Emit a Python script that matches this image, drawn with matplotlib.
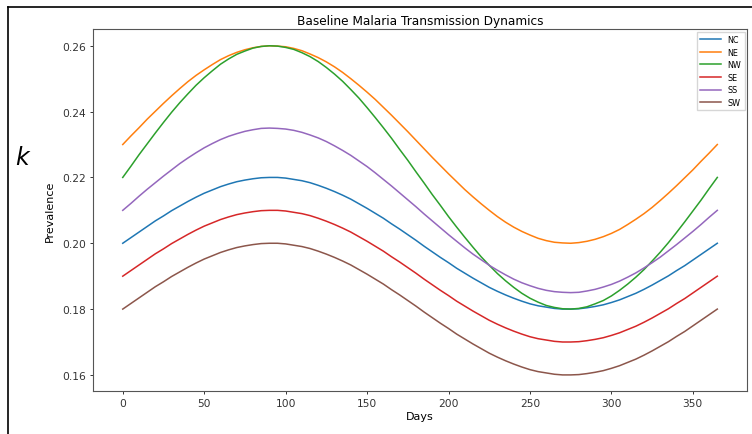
import matplotlib
matplotlib.use("Agg")
import matplotlib.pyplot as plt
from matplotlib.lines import Line2D

# day of year at which the curves were read (every 5 days)
days = list(range(0, 366, 5))

nc = [0.2000, 0.2017, 0.2034, 0.2051, 0.2068, 0.2083, 0.2099, 0.2113, 0.2127, 0.2140,
      0.2152, 0.2162, 0.2172, 0.2180, 0.2187, 0.2192, 0.2196, 0.2199, 0.2200, 0.2200,
      0.2198, 0.2194, 0.2190, 0.2184, 0.2176, 0.2167, 0.2157, 0.2146, 0.2134, 0.2120,
      0.2106, 0.2091, 0.2076, 0.2059, 0.2043, 0.2026, 0.2009, 0.1991, 0.1974, 0.1957,
      0.1941, 0.1924, 0.1909, 0.1894, 0.1880, 0.1866, 0.1854, 0.1843, 0.1833, 0.1824,
      0.1816, 0.1810, 0.1806, 0.1802, 0.1800, 0.1800, 0.1801, 0.1804, 0.1808, 0.1813,
      0.1820, 0.1828, 0.1838, 0.1848, 0.1860, 0.1873, 0.1887, 0.1901, 0.1917, 0.1932,
      0.1949, 0.1966, 0.1983, 0.2000]
ne = [0.2300, 0.2326, 0.2351, 0.2377, 0.2401, 0.2425, 0.2448, 0.2470, 0.2491, 0.2510,
      0.2527, 0.2543, 0.2558, 0.2570, 0.2580, 0.2588, 0.2594, 0.2598, 0.2600, 0.2599,
      0.2597, 0.2592, 0.2585, 0.2575, 0.2564, 0.2551, 0.2536, 0.2519, 0.2500, 0.2480,
      0.2459, 0.2437, 0.2413, 0.2389, 0.2364, 0.2339, 0.2313, 0.2287, 0.2261, 0.2236,
      0.2211, 0.2187, 0.2163, 0.2141, 0.2120, 0.2100, 0.2081, 0.2064, 0.2049, 0.2036,
      0.2025, 0.2015, 0.2008, 0.2003, 0.2001, 0.2000, 0.2002, 0.2006, 0.2012, 0.2020,
      0.2030, 0.2042, 0.2057, 0.2073, 0.2090, 0.2109, 0.2130, 0.2152, 0.2175, 0.2199,
      0.2223, 0.2249, 0.2274, 0.2300]
nw = [0.2200, 0.2234, 0.2269, 0.2302, 0.2335, 0.2367, 0.2398, 0.2427, 0.2454, 0.2480,
      0.2503, 0.2524, 0.2544, 0.2560, 0.2574, 0.2584, 0.2593, 0.2598, 0.2600, 0.2599,
      0.2595, 0.2589, 0.2579, 0.2567, 0.2552, 0.2534, 0.2514, 0.2492, 0.2467, 0.2441,
      0.2412, 0.2382, 0.2351, 0.2319, 0.2285, 0.2252, 0.2217, 0.2183, 0.2148, 0.2115,
      0.2081, 0.2049, 0.2018, 0.1988, 0.1959, 0.1933, 0.1908, 0.1886, 0.1866, 0.1848,
      0.1833, 0.1821, 0.1811, 0.1805, 0.1801, 0.1800, 0.1802, 0.1807, 0.1816, 0.1826,
      0.1840, 0.1857, 0.1876, 0.1897, 0.1920, 0.1946, 0.1973, 0.2002, 0.2033, 0.2065,
      0.2098, 0.2131, 0.2166, 0.2200]
se = [0.1900, 0.1917, 0.1934, 0.1951, 0.1968, 0.1983, 0.1999, 0.2013, 0.2027, 0.2040,
      0.2052, 0.2062, 0.2072, 0.2080, 0.2087, 0.2092, 0.2096, 0.2099, 0.2100, 0.2100,
      0.2098, 0.2094, 0.2090, 0.2084, 0.2076, 0.2067, 0.2057, 0.2046, 0.2034, 0.2020,
      0.2006, 0.1991, 0.1976, 0.1959, 0.1943, 0.1926, 0.1909, 0.1891, 0.1874, 0.1857,
      0.1841, 0.1824, 0.1809, 0.1794, 0.1780, 0.1766, 0.1754, 0.1743, 0.1733, 0.1724,
      0.1716, 0.1710, 0.1706, 0.1702, 0.1700, 0.1700, 0.1701, 0.1704, 0.1708, 0.1713,
      0.1720, 0.1728, 0.1738, 0.1748, 0.1760, 0.1773, 0.1787, 0.1801, 0.1817, 0.1832,
      0.1849, 0.1866, 0.1883, 0.1900]
ss = [0.2100, 0.2121, 0.2143, 0.2164, 0.2184, 0.2204, 0.2223, 0.2242, 0.2259, 0.2275,
      0.2290, 0.2303, 0.2315, 0.2325, 0.2333, 0.2340, 0.2345, 0.2349, 0.2350, 0.2349,
      0.2347, 0.2343, 0.2337, 0.2329, 0.2320, 0.2309, 0.2296, 0.2282, 0.2267, 0.2250,
      0.2233, 0.2214, 0.2194, 0.2174, 0.2153, 0.2132, 0.2111, 0.2089, 0.2068, 0.2047,
      0.2026, 0.2006, 0.1986, 0.1967, 0.1950, 0.1933, 0.1918, 0.1904, 0.1891, 0.1880,
      0.1871, 0.1863, 0.1857, 0.1853, 0.1851, 0.1850, 0.1851, 0.1855, 0.1860, 0.1867,
      0.1875, 0.1885, 0.1897, 0.1910, 0.1925, 0.1941, 0.1958, 0.1977, 0.1996, 0.2016,
      0.2036, 0.2057, 0.2079, 0.2100]
sw = [0.1800, 0.1817, 0.1834, 0.1851, 0.1868, 0.1883, 0.1899, 0.1913, 0.1927, 0.1940,
      0.1952, 0.1962, 0.1972, 0.1980, 0.1987, 0.1992, 0.1996, 0.1999, 0.2000, 0.2000,
      0.1998, 0.1994, 0.1990, 0.1984, 0.1976, 0.1967, 0.1957, 0.1946, 0.1934, 0.1920,
      0.1906, 0.1891, 0.1876, 0.1859, 0.1843, 0.1826, 0.1809, 0.1791, 0.1774, 0.1757,
      0.1741, 0.1724, 0.1709, 0.1694, 0.1680, 0.1666, 0.1654, 0.1643, 0.1633, 0.1624,
      0.1616, 0.1610, 0.1606, 0.1602, 0.1600, 0.1600, 0.1601, 0.1604, 0.1608, 0.1613,
      0.1620, 0.1628, 0.1638, 0.1648, 0.1660, 0.1673, 0.1687, 0.1701, 0.1717, 0.1732,
      0.1749, 0.1766, 0.1783, 0.1800]

regions = ["NC", "NE", "NW", "SE", "SS", "SW"]
series = [nc, ne, nw, se, ss, sw]

fig = plt.figure(figsize=(7.52, 4.35), dpi=100)
ax = fig.add_axes([0.1237, 0.098, 0.8697, 0.8323])

for name, vals in zip(regions, series):
    ax.plot(days, vals, linewidth=1.1, label=name)

ax.set_title("Baseline Malaria Transmission Dynamics", fontsize=8.7, pad=4)
ax.set_xlabel("Days", fontsize=8, labelpad=2)
ax.set_ylabel("Prevalence", fontsize=8, labelpad=5)
ax.set_xticks([0, 50, 100, 150, 200, 250, 300, 350])
ax.set_yticks([0.16, 0.18, 0.20, 0.22, 0.24, 0.26])
ax.tick_params(labelsize=7.7, length=2.5, width=0.7, pad=2.5, colors="#333333")
for sp in ax.spines.values():
    sp.set_color("#555555")
    sp.set_linewidth(0.8)

ax.legend(loc="upper right", fontsize=5.8, frameon=True, borderaxespad=0.3,
          handlelength=2.6, labelspacing=0.45, fancybox=False,
          edgecolor="#cccccc")

# screenshot frame and stray label on the left
fig.add_artist(Line2D([8 / 752, 8 / 752], [0, 1 - 8 / 435], color="black",
                      linewidth=1.2, transform=fig.transFigure))
fig.add_artist(Line2D([8 / 752, 1], [1 - 8 / 435, 1 - 8 / 435], color="black",
                      linewidth=1.2, transform=fig.transFigure))
fig.text(22 / 752, 1 - 158 / 435, "k", fontsize=17, fontstyle="italic",
         ha="center", va="center")

fig.savefig("out.png", dpi=100)
